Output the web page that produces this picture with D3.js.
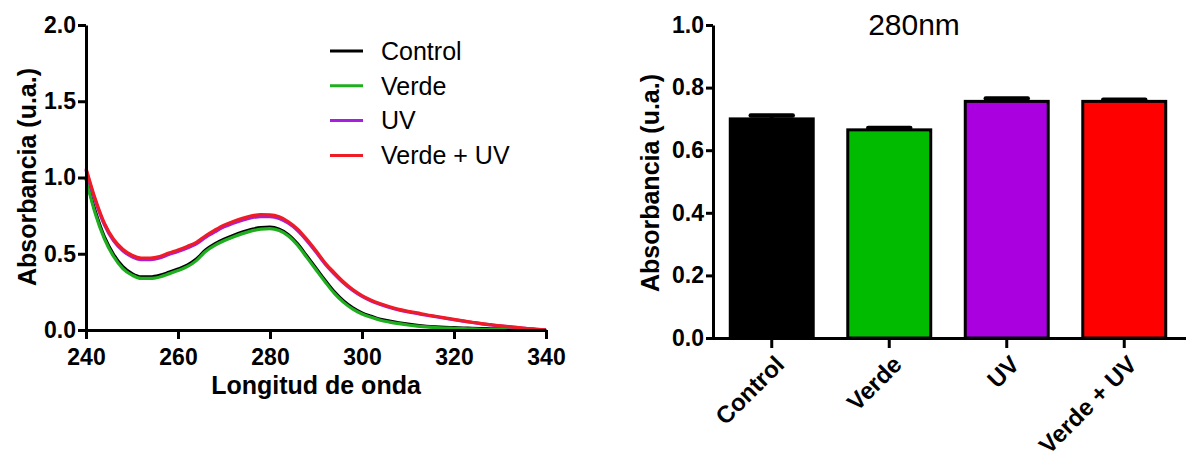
<!DOCTYPE html>
<html>
<head>
<meta charset="utf-8">
<script src="https://cdn.jsdelivr.net/npm/d3@7"></script>
<style>
  body { margin: 0; background: #fff; }
  svg { display: block; font-family: "Liberation Sans", Arial, sans-serif; }
</style>
</head>
<body>
<svg width="1186" height="454"></svg>
<script>
// spectra
const wavelength = d3.range(240, 341, 2);
const control = [0.995, 0.78, 0.61, 0.495, 0.415, 0.37, 0.348, 0.348, 0.358, 0.378,
    0.40, 0.425, 0.465, 0.525, 0.565, 0.595, 0.62, 0.642, 0.66, 0.672,
    0.674, 0.66, 0.625, 0.565, 0.485, 0.405, 0.325, 0.25, 0.19, 0.145,
    0.112, 0.09, 0.07, 0.058, 0.047, 0.038, 0.03, 0.024, 0.02, 0.017,
    0.015, 0.013, 0.011, 0.009, 0.008, 0.007, 0.006, 0.004, 0.003, 0.002, 0.0];
const verde = [0.99, 0.765, 0.597, 0.482, 0.403, 0.36, 0.338, 0.338, 0.348, 0.368,
    0.39, 0.415, 0.455, 0.515, 0.555, 0.585, 0.61, 0.632, 0.65, 0.662,
    0.665, 0.652, 0.617, 0.556, 0.476, 0.395, 0.315, 0.24, 0.181, 0.137,
    0.105, 0.083, 0.064, 0.052, 0.042, 0.033, 0.026, 0.02, 0.016, 0.013,
    0.011, 0.009, 0.007, 0.005, 0.004, 0.004, 0.003, 0.003, 0.002, 0.001, 0.0];
const uv = [1.05, 0.85, 0.69, 0.585, 0.52, 0.48, 0.462, 0.462, 0.472, 0.495,
    0.515, 0.538, 0.565, 0.607, 0.643, 0.676, 0.7, 0.72, 0.736, 0.744,
    0.743, 0.731, 0.7, 0.652, 0.586, 0.511, 0.432, 0.367, 0.308, 0.259,
    0.22, 0.19, 0.168, 0.148, 0.131, 0.119, 0.108, 0.097, 0.087, 0.077,
    0.067, 0.058, 0.049, 0.04, 0.033, 0.027, 0.021, 0.015, 0.009, 0.004, 0.0];
const verdeUv = [1.06, 0.86, 0.70, 0.595, 0.53, 0.49, 0.472, 0.472, 0.482, 0.505,
    0.525, 0.548, 0.575, 0.618, 0.655, 0.688, 0.712, 0.732, 0.748, 0.756,
    0.755, 0.742, 0.71, 0.662, 0.595, 0.52, 0.44, 0.375, 0.315, 0.265,
    0.225, 0.195, 0.172, 0.152, 0.135, 0.123, 0.112, 0.10, 0.09, 0.08,
    0.07, 0.06, 0.051, 0.042, 0.035, 0.028, 0.022, 0.016, 0.01, 0.005, 0.0];

const groups = ["Control", "Verde", "UV", "Verde + UV"];
const lineColors = ["#000000", "#1fae1f", "#a61fe0", "#ee1c24"];
const barColors = ["#000000", "#00bb00", "#aa00e0", "#ff0000"];

// 280 nm bars
const barMeans = [0.70, 0.665, 0.756, 0.756];
const barErrors = [0.011, 0.006, 0.009, 0.005];

const spectraTicks = [240, 260, 280, 300, 320, 340];
const spectraYTicks = [0, 0.5, 1.0, 1.5, 2.0];
const barYTicks = [0, 0.2, 0.4, 0.6, 0.8, 1.0];

const svg = d3.select("svg");

function styleAxis(g, width) {
    g.selectAll("path").attr("stroke", "#000").attr("stroke-width", width);
    g.selectAll("line").attr("stroke", "#000").attr("stroke-width", width);
    g.selectAll("text")
        .attr("fill", "#000")
        .style("font-size", "23px")
        .style("font-weight", "bold");
}

// ---- left panel: spectra
const xScale = d3.scaleLinear().domain([240, 340]).range([86, 546]);
const yScale = d3.scaleLinear().domain([0, 2]).range([330, 25]);

const seriesList = [control, verde, uv, verdeUv];

const line = d3.line()
    .x((d, i) => xScale(wavelength[i]))
    .y(d => yScale(d))
    .curve(d3.curveMonotoneX);

svg.append("g")
    .selectAll("path")
    .data(seriesList)
    .enter()
    .append("path")
    .attr("d", d => line(d))
    .attr("fill", "none")
    .attr("stroke", (d, i) => lineColors[i])
    .attr("stroke-width", 3.2)
    .attr("stroke-linejoin", "round");

const xAxisG = svg.append("g")
    .attr("transform", "translate(0,330)")
    .call(d3.axisBottom(xScale).tickValues(spectraTicks).tickSize(9).tickPadding(10).tickSizeOuter(0));
styleAxis(xAxisG, 3);

const yAxisG = svg.append("g")
    .attr("transform", "translate(86,0)")
    .call(d3.axisLeft(yScale).tickValues(spectraYTicks).tickFormat(d3.format(".1f")).tickSize(8).tickPadding(2).tickSizeOuter(0));
styleAxis(yAxisG, 3);

svg.append("text")
    .attr("x", 316)
    .attr("y", 394)
    .attr("text-anchor", "middle")
    .style("font-size", "25px")
    .style("font-weight", "bold")
    .text("Longitud de onda");

svg.append("text")
    .attr("transform", "translate(36,177) rotate(-90)")
    .attr("text-anchor", "middle")
    .style("font-size", "25px")
    .style("font-weight", "bold")
    .text("Absorbancia (u.a.)");

// legend
const legend = svg.append("g")
    .selectAll("g")
    .data(groups)
    .enter()
    .append("g")
    .attr("transform", (d, i) => "translate(330," + (51 + i * 34.8) + ")");
legend.append("line")
    .attr("x1", 0).attr("x2", 33)
    .attr("stroke", (d, i) => lineColors[i])
    .attr("stroke-width", 3);
legend.append("text")
    .attr("x", 51)
    .attr("dy", "0.35em")
    .style("font-size", "25px")
    .text(d => d);

// ---- right panel: bars at 280 nm
const bandScale = d3.scaleBand().domain(groups).range([713, 1183])
    .paddingInner(0.294).paddingOuter(0.147);
const barY = d3.scaleLinear().domain([0, 1]).range([338, 25]);

const bars = svg.append("g");
bars.selectAll("rect")
    .data(groups)
    .enter()
    .append("rect")
    .attr("x", d => bandScale(d))
    .attr("y", (d, i) => barY(barMeans[i]))
    .attr("width", bandScale.bandwidth())
    .attr("height", (d, i) => barY(0) - barY(barMeans[i]))
    .attr("fill", (d, i) => barColors[i])
    .attr("stroke", "#000")
    .attr("stroke-width", 3);

// upper error bars
bars.selectAll("line.err")
    .data(groups)
    .enter()
    .append("line")
    .attr("class", "err")
    .attr("x1", d => bandScale(d) + bandScale.bandwidth() / 2)
    .attr("x2", d => bandScale(d) + bandScale.bandwidth() / 2)
    .attr("y1", (d, i) => barY(barMeans[i]))
    .attr("y2", (d, i) => barY(barMeans[i] + barErrors[i]))
    .attr("stroke", "#000")
    .attr("stroke-width", 4);
bars.selectAll("line.cap")
    .data(groups)
    .enter()
    .append("line")
    .attr("class", "cap")
    .attr("x1", d => bandScale(d) + bandScale.bandwidth() / 2 - 21)
    .attr("x2", d => bandScale(d) + bandScale.bandwidth() / 2 + 21)
    .attr("y1", (d, i) => barY(barMeans[i] + barErrors[i]))
    .attr("y2", (d, i) => barY(barMeans[i] + barErrors[i]))
    .attr("stroke", "#000")
    .attr("stroke-width", 4.5)
    .attr("stroke-linecap", "round");

const barXAxisG = svg.append("g")
    .attr("transform", "translate(0,338)")
    .call(d3.axisBottom(bandScale).tickSize(10).tickSizeOuter(0));
barXAxisG.select("path").attr("d", "M713,0.5H1186");
styleAxis(barXAxisG, 3);
barXAxisG.selectAll("text")
    .attr("x", 0)
    .attr("y", 0)
    .attr("dy", 0)
    .attr("text-anchor", "end")
    .style("font-size", "24px")
    .attr("transform", "translate(14,28) rotate(-45)");

const barYAxisG = svg.append("g")
    .attr("transform", "translate(713,0)")
    .call(d3.axisLeft(barY).tickValues(barYTicks).tickFormat(d3.format(".1f")).tickSize(7).tickPadding(2).tickSizeOuter(0));
styleAxis(barYAxisG, 3);

svg.append("text")
    .attr("transform", "translate(659,183) rotate(-90)")
    .attr("text-anchor", "middle")
    .style("font-size", "25px")
    .style("font-weight", "bold")
    .text("Absorbancia (u.a.)");

svg.append("text")
    .attr("x", 914)
    .attr("y", 35)
    .attr("text-anchor", "middle")
    .style("font-size", "30px")
    .text("280nm");
</script>
</body>
</html>
